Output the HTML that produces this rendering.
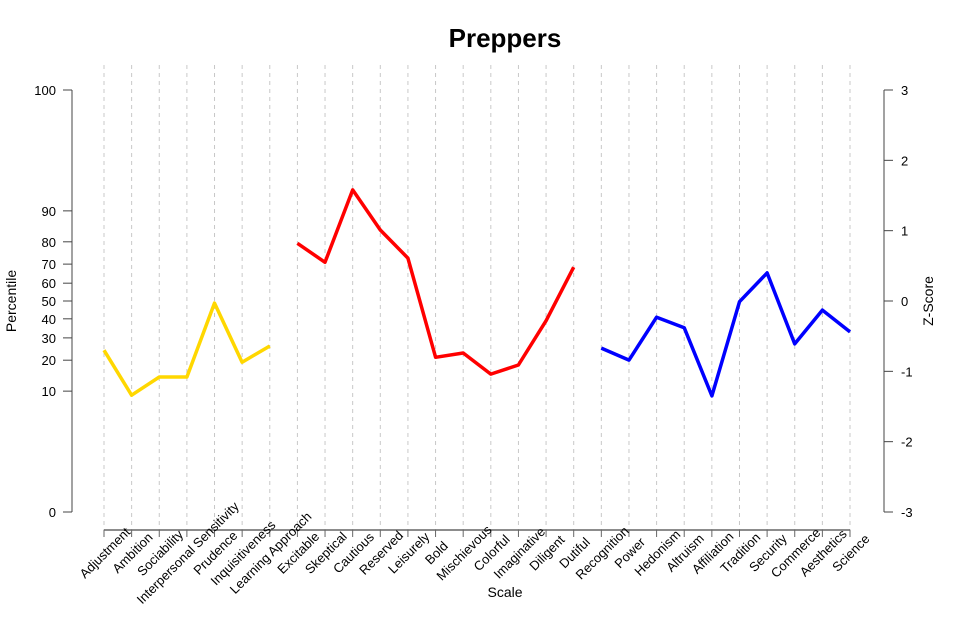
<!DOCTYPE html>
<html><head><meta charset="utf-8"><style>
body{margin:0;background:#fff}
svg{display:block;font-family:"Liberation Sans",Arial,sans-serif}
</style></head><body>
<svg id="chart" width="974" height="618" viewBox="0 0 974 618" xmlns="http://www.w3.org/2000/svg">
<text x="505" y="47" text-anchor="middle" font-size="26" font-weight="bold">Preppers</text>
<g id="grid"></g><g id="axes"></g><g id="series"></g><g id="labels"></g>
<text transform="translate(16,301) rotate(-90)" text-anchor="middle" font-size="14">Percentile</text>
<text transform="translate(933,301) rotate(-90)" text-anchor="middle" font-size="14">Z-Score</text>
<text x="505" y="597" text-anchor="middle" font-size="14">Scale</text>
</svg>
<script>
const categories=["Adjustment","Ambition","Sociability","Interpersonal Sensitivity","Prudence","Inquisitiveness","Learning Approach","Excitable","Skeptical","Cautious","Reserved","Leisurely","Bold","Mischievous","Colorful","Imaginative","Diligent","Dutiful","Recognition","Power","Hedonism","Altruism","Affiliation","Tradition","Security","Commerce","Aesthetics","Science"];
const hpiZ=[-0.70,-1.34,-1.08,-1.08,-0.03,-0.87,-0.64];
const hdsZ=[0.82,0.55,1.58,1.01,0.61,-0.80,-0.74,-1.04,-0.91,-0.28,0.48];
const mvpiZ=[-0.67,-0.84,-0.23,-0.38,-1.35,-0.01,0.40,-0.61,-0.13,-0.44];
const percentileTicks=[0,10,20,30,40,50,60,70,80,90,100];
const zTicks=[-3,-2,-1,0,1,2,3];
const NS="http://www.w3.org/2000/svg";
const X0=104,X1=850,YT=90,YB=512;
function xs(i){return X0+(X1-X0)*i/(categories.length-1);}
function ys(z){return YT+(3-z)*(YB-YT)/6;}
function probit(p){ if(p<=0)return -3; if(p>=1)return 3;
 // Acklam approximation
 const a=[-39.69683028665376,220.9460984245205,-275.9285104469687,138.3577518672690,-30.66479806614716,2.506628277459239];
 const b=[-54.47609879822406,161.5858368580409,-155.6989798598866,66.80131188771972,-13.28068155288572];
 const c=[-0.007784894002430293,-0.3223964580411365,-2.400758277161838,-2.549732539343734,4.374664141464968,2.938163982698783];
 const d=[0.007784695709041462,0.3224671290700398,2.445134137142996,3.754408661907416];
 let q,r;
 if(p<0.02425){q=Math.sqrt(-2*Math.log(p));return (((((c[0]*q+c[1])*q+c[2])*q+c[3])*q+c[4])*q+c[5])/((((d[0]*q+d[1])*q+d[2])*q+d[3])*q+1);}
 if(p>1-0.02425){q=Math.sqrt(-2*Math.log(1-p));return -(((((c[0]*q+c[1])*q+c[2])*q+c[3])*q+c[4])*q+c[5])/((((d[0]*q+d[1])*q+d[2])*q+d[3])*q+1);}
 q=p-0.5;r=q*q;return (((((a[0]*r+a[1])*r+a[2])*r+a[3])*r+a[4])*r+a[5])*q/(((((b[0]*r+b[1])*r+b[2])*r+b[3])*r+b[4])*r+1);}
function mk(tag,attrs,parent,text){const e=document.createElementNS(NS,tag);for(const k in attrs)e.setAttribute(k,attrs[k]);if(text!==undefined)e.textContent=text;parent.appendChild(e);return e;}
const grid=document.getElementById('grid'),axes=document.getElementById('axes'),series=document.getElementById('series'),labels=document.getElementById('labels');
categories.forEach((c,i)=>{
 const g=mk('line',{x1:xs(i),x2:xs(i),y1:YT-25,y2:530,stroke:'#c8c8c8','stroke-dasharray':'4,4','stroke-width':1},grid);
 
 
 const t=mk('line',{x1:xs(i),x2:xs(i),y1:530,y2:537,stroke:'#666','stroke-width':1},axes);
 
 
 const l=mk('text',{transform:`translate(${xs(i)+4},556) rotate(-45)`,'text-anchor':'middle','font-size':13},labels,c);
 
 
});
const xa=mk('line',{x1:X0,x2:X1,y1:530,y2:530,stroke:'#666','stroke-width':1.5},axes);


const la=mk('line',{x1:72,x2:72,y1:YT,y2:YB,stroke:'#444','stroke-width':1},axes);


percentileTicks.forEach(p=>{
 const y=ys(probit(p/100));
 const t=mk('line',{x1:63,x2:72,y1:y,y2:y,stroke:'#444'},axes);
 
 
 const l=mk('text',{x:56,y:y+5,'text-anchor':'end','font-size':13},axes,String(p));
 
 
});
const ra=mk('line',{x1:884,x2:884,y1:YT,y2:YB,stroke:'#444','stroke-width':1},axes);


zTicks.forEach(z=>{
 const y=ys(z);
 const t=mk('line',{x1:884,x2:893,y1:y,y2:y,stroke:'#444'},axes);
 
 
 const l=mk('text',{x:901,y:y+5,'font-size':13},axes,String(z));
 
 
});
function drawSeries(vals,start,color,name){
 const pts=vals.map((v,k)=>xs(start+k).toFixed(1)+','+ys(v).toFixed(1)).join(' ');
 const p=mk('polyline',{points:pts,fill:'none',stroke:color,'stroke-width':3.5,'stroke-linejoin':'round'},series);
 
 
}
drawSeries(hpiZ,0,'#FFD700','hpi-line');
drawSeries(hdsZ,hpiZ.length,'#FF0000','hds-line');
drawSeries(mvpiZ,hpiZ.length+hdsZ.length,'#0000FF','mvpi-line');
</script>
</body></html>
